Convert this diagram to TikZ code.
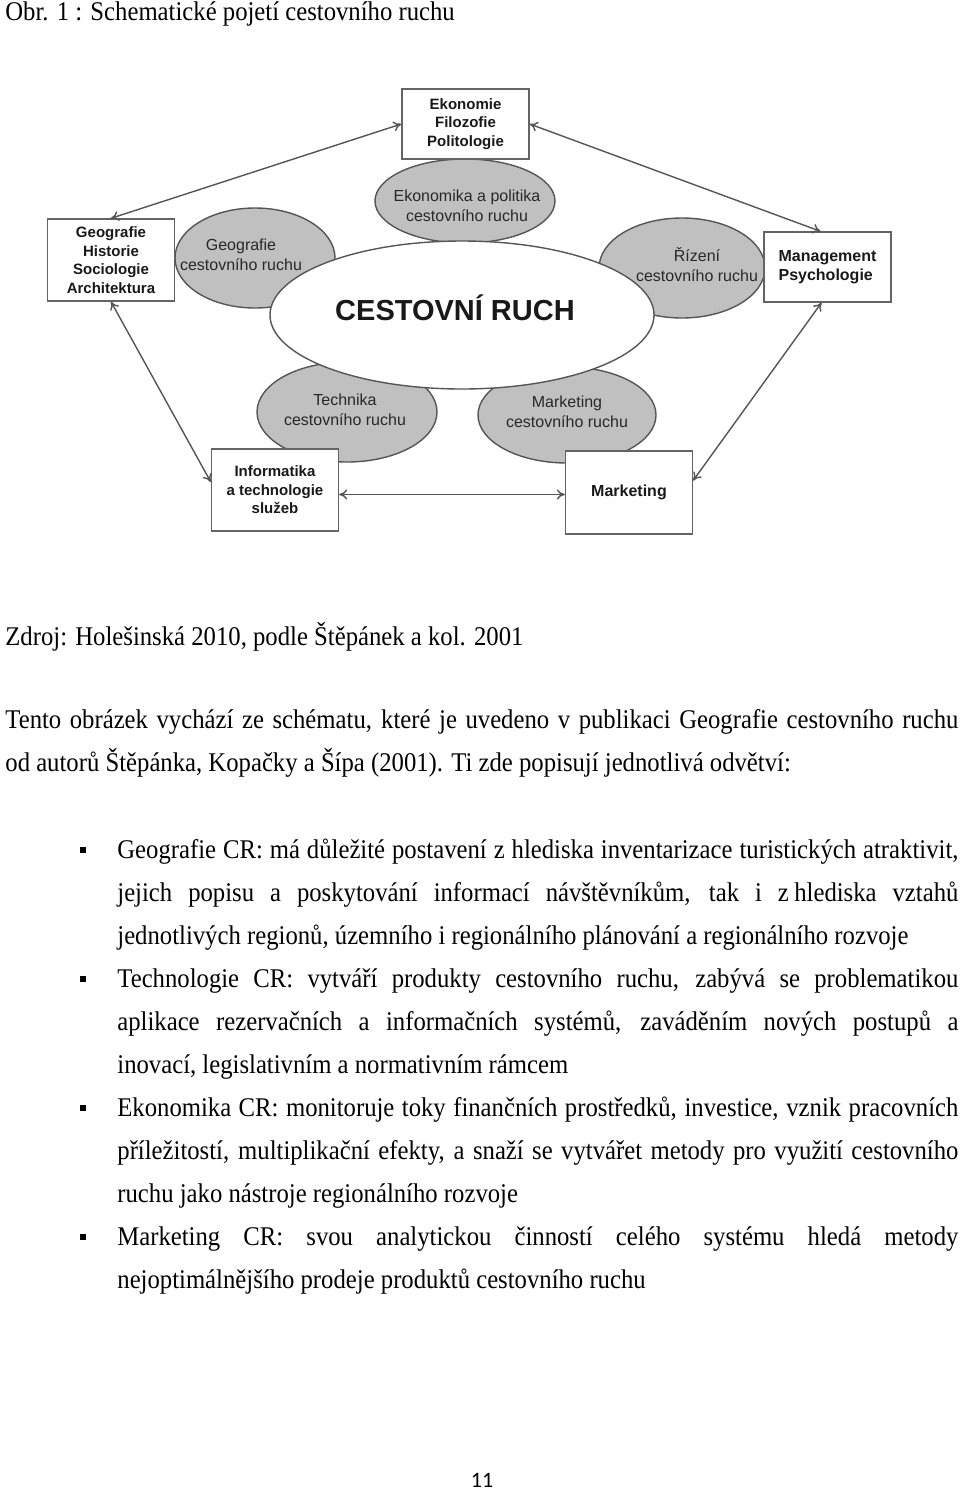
\documentclass[tikz,border=0pt]{standalone}
\usepackage{fontspec}
\setmainfont{Liberation Serif}[FakeStretch=0.915]
\newfontfamily\diagfont{Liberation Sans}
\newfontfamily\pagefont{Carlito}
\usepackage{xcolor}
\usetikzlibrary{shapes.geometric, arrows.meta, positioning, calc}
\definecolor{ovalgray}{RGB}{192,192,192}
\definecolor{edgegray}{RGB}{85,85,85}
\definecolor{boxgray}{RGB}{100,100,100}
\definecolor{labelgray}{RGB}{40,40,40}
\newcommand{\bodytext}{\fontsize{13.5}{16}\selectfont}

\begin{document}
\begin{tikzpicture}[x=0.5pt, y=-0.5pt,
    discbox/.style={draw=boxgray, line width=0.7pt, fill=white, minimum width=63.5pt,
        minimum height=35pt, inner sep=1pt, align=center, text=black!90,
        font=\diagfont\bfseries\fontsize{7.5}{9.3}\selectfont},
    ovallabel/.style={align=center, inner sep=0pt, text=labelgray,
        font=\diagfont\fontsize{8}{10}\selectfont},
    oval/.style={draw=edgegray, line width=0.7pt, fill=ovalgray},
    link/.style={draw=edgegray, line width=0.7pt, {To[length=4pt,width=5pt]}-{To[length=4pt,width=5pt]}},
    textline/.style={anchor=base west, inner sep=0pt, font=\bodytext},
    bullet/.style={fill=black, minimum size=3.2pt, inner sep=0pt}]
    \useasboundingbox (0,0) rectangle (960,1490);

    % Grey fields round the core
    \foreach \cx/\cy/\rx/\ry in {255/258/80/50, 465/201/90/42, 682/268/83/50, 347/412/90/50, 567/415/89/48} {
        \draw[oval] (\cx,\cy) ellipse [x radius=\rx, y radius=\ry];
    }
    % The core
    \draw[draw=edgegray, line width=0.7pt, fill=white] (462,315) ellipse [x radius=192, y radius=74];
    \node[font=\diagfont\bfseries\fontsize{14.5}{16}\selectfont, text=black!90] (core) at (455,308) {CESTOVNÍ RUCH};

    % Field labels
    \node[ovallabel] (geolab) at (241,255) {Geografie\\cestovního ruchu};
    \node[ovallabel] (ekolab) at (467,206) {Ekonomika a politika\\cestovního ruchu};
    \node[ovallabel] (rizlab) at (697,265) {Řízení\\cestovního ruchu};
    \node[ovallabel] (teclab) at (345,410) {Technika\\cestovního ruchu};
    \node[ovallabel] (marlab) at (567,412) {Marketing\\cestovního ruchu};

    % Disciplines
    \node[discbox] (top) at (465.5,124) {Ekonomie\\Filozofie\\Politologie};
    \node[discbox, minimum height=41pt] (west) at (111,260) {Geografie\\Historie\\Sociologie\\Architektura};
    \node[discbox, align=left, font=\diagfont\bfseries\fontsize{8}{9.5}\selectfont] (east) at (827.5,267) {Management\\Psychologie};
    \node[discbox, minimum height=41pt] (info) at (275,490) {Informatika\\a technologie\\služeb};
    \node[discbox, minimum height=41.5pt, font=\diagfont\bfseries\fontsize{8}{9.5}\selectfont] (mark) at (629,492.5) {Marketing};

    % Links between disciplines
    \draw[link] (west.north) -- (top.west);
    \draw[link] (top.east) -- ([xshift=-3.5pt]east.north);
    \draw[link] ([xshift=-3pt]east.south) -- ([yshift=6pt]mark.east);
    \draw[link] ([yshift=-1pt]mark.west) -- ([yshift=-1pt]mark.west -| info.east);
    \draw[link] ([yshift=4pt]info.west) -- (west.south);

    % Caption, source and text
    \node[textline] (caption) at (5,20) {Obr. 1 : Schematické pojetí cestovního ruchu};
    \node[textline] (source) at (5,645) {Zdroj: Holešinská 2010, podle Štěpánek a kol. 2001};
    \node[textline] (introa) at (5,728) {\makebox[476.5pt][s]{Tento obrázek vychází ze schématu, které je uvedeno v publikaci Geografie cestovního ruchu}};
    \node[textline] (introb) at (5,771) {od autorů Štěpánka, Kopačky a Šípa (2001). Ti zde popisují jednotlivá odvětví:};

    \foreach \y in {850,979,1108,1237} {
        \node[bullet] (dot\y) at (83,\y) {};
    }
    \node[textline] (geoa) at (117,858) {\makebox[420.5pt][s]{Geografie CR: má důležité postavení z hlediska inventarizace turistických atraktivit,}};
    \node[textline] (geob) at (117,901) {\makebox[420.5pt][s]{jejich popisu a poskytování informací návštěvníkům, tak i z\hspace{0.2em}hlediska vztahů}};
    \node[textline] (geoc) at (117,944) {jednotlivých regionů, územního i regionálního plánování a regionálního rozvoje};
    \node[textline] (teca) at (117,987) {\makebox[420.5pt][s]{Technologie CR: vytváří produkty cestovního ruchu, zabývá se problematikou}};
    \node[textline] (tecb) at (117,1030) {\makebox[420.5pt][s]{aplikace rezervačních a informačních systémů, zaváděním nových postupů a}};
    \node[textline] (tecc) at (117,1073) {inovací, legislativním a normativním rámcem};
    \node[textline] (ekoa) at (117,1116) {\makebox[420.5pt][s]{Ekonomika CR: monitoruje toky finančních prostředků, investice, vznik pracovních}};
    \node[textline] (ekob) at (117,1159) {\makebox[420.5pt][s]{příležitostí, multiplikační efekty, a snaží se vytvářet metody pro využití cestovního}};
    \node[textline] (ekoc) at (117,1202) {ruchu jako nástroje regionálního rozvoje};
    \node[textline] (mara) at (117,1245) {\makebox[420.5pt][s]{Marketing CR: svou analytickou činností celého systému hledá metody}};
    \node[textline] (marb) at (117,1288) {nejoptimálnějšího prodeje produktů cestovního ruchu};

    % Page number
    \node[font=\pagefont\fontsize{11}{13}\selectfont] (pageno) at (482,1480) {11};
\end{tikzpicture}
\end{document}
